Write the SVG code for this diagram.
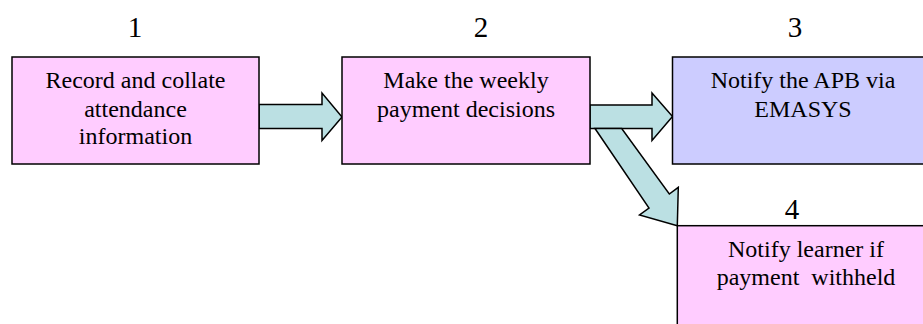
<svg xmlns="http://www.w3.org/2000/svg" width="923" height="324" viewBox="0 0 923 324">
<style>
  .box { stroke: #000; stroke-width: 1.5; }
  .pink { fill: #FFCCFF; }
  .blue { fill: #CCCCFF; }
  .arrow { fill: #BBE0E3; stroke: #000; stroke-width: 1.5; stroke-linejoin: miter; }
  .t { font-size: 24px; }
  .num { font-size: 29px; }
</style>
<rect width="923" height="324" fill="#FFFFFF"/>
<g id="connectors">
  <polygon class="arrow" points="259,104.5 322,104.5 322,93 342,117 322,140.5 322,128.5 259,128.5"/>
  <polygon class="arrow" points="590,105 652,105 652,93 672.5,116.5 652,140.5 652,128.5 590,128.5"/>
  <polygon class="arrow" points="595,128.5 649,208 639.5,215 677.3,225.7 678.3,187.3 669.3,194 621.7,128.5"/>
</g>
<g font-family="Liberation Serif, DejaVu Serif, serif" text-anchor="middle" fill="#000">
<g id="node1">
  <rect class="box pink" x="12" y="57" width="247" height="107"/>
  <text class="num" x="135" y="37">1</text>
  <text class="t" x="135.5" y="88">Record and collate</text>
  <text class="t" x="135.5" y="116.5">attendance</text>
  <text class="t" x="135.5" y="144">information</text>
</g>
<g id="node2">
  <rect class="box pink" x="342" y="57" width="248" height="107"/>
  <text class="num" x="481" y="37">2</text>
  <text class="t" x="466" y="88">Make the weekly</text>
  <text class="t" x="466" y="116.5">payment decisions</text>
</g>
<g id="node3">
  <rect class="box blue" x="672.5" y="57" width="260" height="107"/>
  <text class="num" x="795" y="37">3</text>
  <text class="t" x="803" y="88">Notify the APB via</text>
  <text class="t" x="803" y="116.5">EMASYS</text>
</g>
<g id="node4">
  <rect class="box pink" x="677.3" y="225.7" width="260" height="110"/>
  <text class="num" x="792" y="219">4</text>
  <text class="t" x="806" y="257">Notify learner if</text>
  <text class="t" x="806" y="285" xml:space="preserve">payment  withheld</text>
</g>
</g>
</svg>
